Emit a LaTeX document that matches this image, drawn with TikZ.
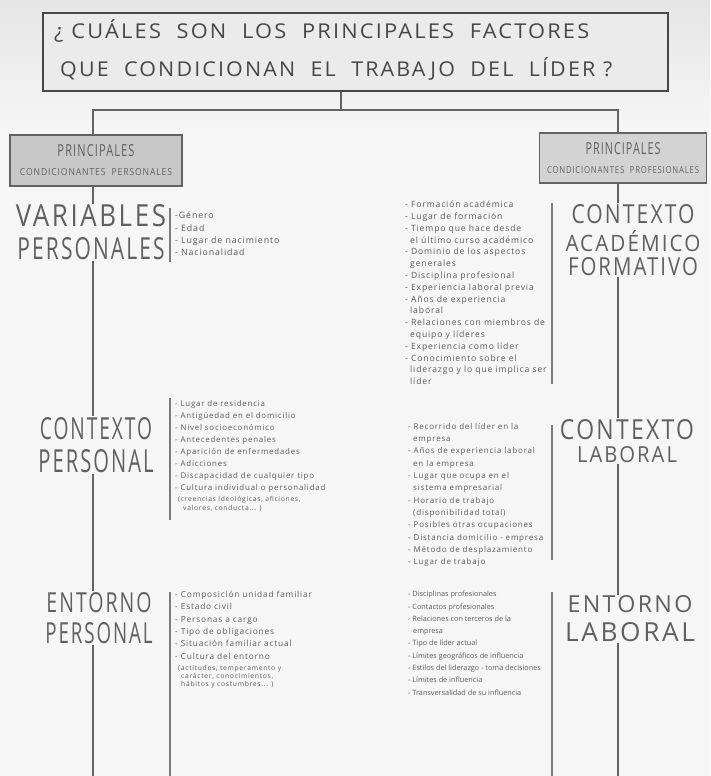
\documentclass[tikz,border=0pt]{standalone}
\usepackage{fontspec}
\setmainfont{Open Sans}
\newfontfamily\hand[LetterSpace=10]{Open Sans}
\newfontfamily\handtight{Open Sans}
\definecolor{ink}{HTML}{474747}
\definecolor{hink}{HTML}{606060}
\definecolor{soft}{HTML}{5A5A5A}
\definecolor{paper}{HTML}{F6F6F6}
\definecolor{tfill}{HTML}{EBEBEB}
\definecolor{pfill}{HTML}{C8C8C8}
\definecolor{barc}{HTML}{7C7C7C}
\newcommand{\fitt}[3]{\resizebox{#1pt}{#2pt}{\hand #3}}
\newcommand{\pn}[1]{{\fontsize{6.8}{8}\selectfont #1}}
\tikzset{
  titlebox/.style={draw=ink, line width=2.6pt, fill=tfill, inner sep=0},
  pbox/.style={draw=ink!85, line width=1.6pt, fill=pfill, inner sep=0, align=center, text=hink},
  heading/.style={inner sep=1pt, align=center, text=hink},
  itemlist/.style={anchor=north west, inner sep=0, align=left, text=soft},
  spine/.style={draw=ink!85, line width=1.1pt},
  bar/.style={draw=barc, line width=2.6pt},
}
\begin{document}
\begin{tikzpicture}[x=1pt,y=-1pt]
\useasboundingbox (0,0) rectangle (710,776);
\fill[paper] (0,0) rectangle (710,776);
\shade[top color=black!10, bottom color=paper] (0,0) rectangle (710,130);

% title
\node[titlebox, minimum width=625pt, minimum height=78pt] (title) at (355.5,52) {};
\node[inner sep=0, anchor=base west, text=ink] (t1) at (54,39) {\fitt{535}{19}{¿ CUÁLES\ \ SON\ \ LOS\ \ PRINCIPALES\ \ FACTORES}};
\node[inner sep=0, anchor=base west, text=ink] (t2) at (60,77) {\fitt{552}{19}{QUE\ \ CONDICIONAN\ \ EL\ \ TRABAJO\ \ DEL\ \ LÍDER ?}};

% principal boxes
\node[pbox, minimum width=172pt, minimum height=51pt] (lbox) at (96,160.5)
  {\fitt{77}{12}{PRINCIPALES}\\[7pt]\fitt{152}{7}{CONDICIONANTES\ \ PERSONALES}};
\node[pbox, minimum width=167pt, minimum height=50pt, fill=pfill!80] (rbox) at (623,158)
  {\fitt{75}{12}{PRINCIPALES}\\[7pt]\fitt{152}{7}{CONDICIONANTES\ \ PROFESIONALES}};

\coordinate (lx) at (93,0);
\coordinate (rx) at (618,0);
\coordinate (hub) at (341,110);
\draw[spine] (title.south -| hub) -- (hub);
\draw[spine] (lbox.north -| lx) |- (hub) -| (rbox.north -| rx);

% left headings
\node[heading] (varp) at (91,232) {\fitt{150}{22}{VARIABLES}\\[9pt]\fitt{147}{22}{PERSONALES}};
\node[heading] (ctxp) at (96,445) {\fitt{112}{22}{CONTEXTO}\\[9pt]\fitt{115}{23}{PERSONAL}};
\node[heading] (entp) at (99,618) {\fitt{105}{20}{ENTORNO}\\[9pt]\fitt{107}{21}{PERSONAL}};
% right headings
\node[heading] (ctxa) at (633,240) {\fitt{123}{19}{CONTEXTO}\\[6pt]\fitt{135}{21}{ACADÉMICO}\\[5pt]\fitt{130}{18}{FORMATIVO}};
\node[heading] (ctxl) at (627,441) {\fitt{134}{20}{CONTEXTO}\\[6pt]\fitt{100}{16}{LABORAL}};
\node[heading] (entl) at (630,619) {\fitt{125}{17}{ENTORNO}\\[9pt]\fitt{130}{19}{LABORAL}};

\coordinate (lend) at (93,776);
\coordinate (rend) at (618,776);
\draw[spine] (lbox.south -| lx) -- (varp.north -| lx);
\draw[spine] (varp.south -| lx) -- (ctxp.north -| lx);
\draw[spine] (ctxp.south -| lx) -- (entp.north -| lx);
\draw[spine] (entp.south -| lx) -- (lend);
\draw[spine] (rbox.south -| rx) -- (ctxa.north -| rx);
\draw[spine] (ctxa.south -| rx) -- (ctxl.north -| rx);
\draw[spine] (ctxl.south -| rx) -- (entl.north -| rx);
\draw[spine] (entl.south -| rx) -- (rend);

% bars
\coordinate (b1a) at (170,208); \coordinate (b1b) at (170,262);
\coordinate (b2a) at (170,398); \coordinate (b2b) at (170,520);
\coordinate (b3a) at (170,592); \coordinate (b3b) at (170,776);
\coordinate (b4a) at (552,203); \coordinate (b4b) at (552,384);
\coordinate (b5a) at (552,425); \coordinate (b5b) at (552,560);
\coordinate (b6a) at (552,592); \coordinate (b6b) at (552,776);
\draw[bar] (b1a) -- (b1b);
\draw[bar] (b2a) -- (b2b);
\draw[bar] (b3a) -- (b3b);
\draw[bar] (b4a) -- (b4b);
\draw[bar] (b5a) -- (b5b);
\draw[bar] (b6a) -- (b6b);

% lists
\node[itemlist, font=\hand\fontsize{8.8}{12.2}\selectfont] (lvar) at (175,212)
 {-Género\\- Edad\\- Lugar de nacimiento\\- Nacionalidad};
\node[itemlist, font=\hand\fontsize{8.6}{11.8}\selectfont] (lacad) at (405,201)
 {- Formación académica\\- Lugar de formación\\- Tiempo que hace desde\\
 \hspace*{5pt}el último curso académico\\- Dominio de los aspectos\\
 \hspace*{5pt}generales\\- Disciplina profesional\\- Experiencia laboral previa\\
 - Años de experiencia\\\hspace*{5pt}laboral\\- Relaciones con miembros de\\
 \hspace*{5pt}equipo y líderes\\- Experiencia como líder\\- Conocimiento sobre el\\
 \hspace*{5pt}liderazgo y lo que implica ser\\\hspace*{5pt}líder};
\node[itemlist, font=\hand\fontsize{7.9}{12}\selectfont] (lctxp) at (175,400)
 {- Lugar de residencia\\- Antigüedad en el domicilio\\- Nivel socioeconómico\\
 - Antecedentes penales\\- Aparición de enfermedades\\- Adicciones\\
 - Discapacidad de cualquier tipo\\- Cultura individual o personalidad\\[-1pt]
 \hspace*{3pt}\pn{(creencias ideológicas, aficiones,}\\[-3pt]\hspace*{8pt}\pn{valores, conducta... )}};
\node[itemlist, font=\hand\fontsize{8}{12.3}\selectfont] (lctxl) at (408,423)
 {- Recorrido del líder en la\\\hspace*{5pt}empresa\\- Años de experiencia laboral\\
 \hspace*{5pt}en la empresa\\- Lugar que ocupa en el\\\hspace*{5pt}sistema empresarial\\
 - Horario de trabajo\\\hspace*{5pt}(disponibilidad total)\\- Posibles otras ocupaciones\\
 - Distancia domicilio - empresa\\- Método de desplazamiento\\- Lugar de trabajo};
\node[itemlist, font=\hand\fontsize{8.3}{12.3}\selectfont] (lentp) at (175,591)
 {- Composición unidad familiar\\- Estado civil\\- Personas a cargo\\
 - Tipo de obligaciones\\- Situación familiar actual\\- Cultura del entorno\\[-1pt]
 \hspace*{3pt}\pn{(actitudes, temperamento y}\\[-4pt]\hspace*{6pt}\pn{carácter, conocimientos,}\\[-4pt]
 \hspace*{6pt}\pn{hábitos y costumbres... )}};
\node[itemlist, font=\handtight\fontsize{7.3}{12.3}\selectfont] (lentl) at (408,591)
 {- Disciplinas profesionales\\- Contactos profesionales\\- Relaciones con terceros de la\\
 \hspace*{5pt}empresa\\- Tipo de líder actual\\- Límites geográficos de influencia\\
 - Estilos del liderazgo - toma decisiones\\- Límites de influencia\\
 - Transversalidad de su influencia};
\end{tikzpicture}
\end{document}
